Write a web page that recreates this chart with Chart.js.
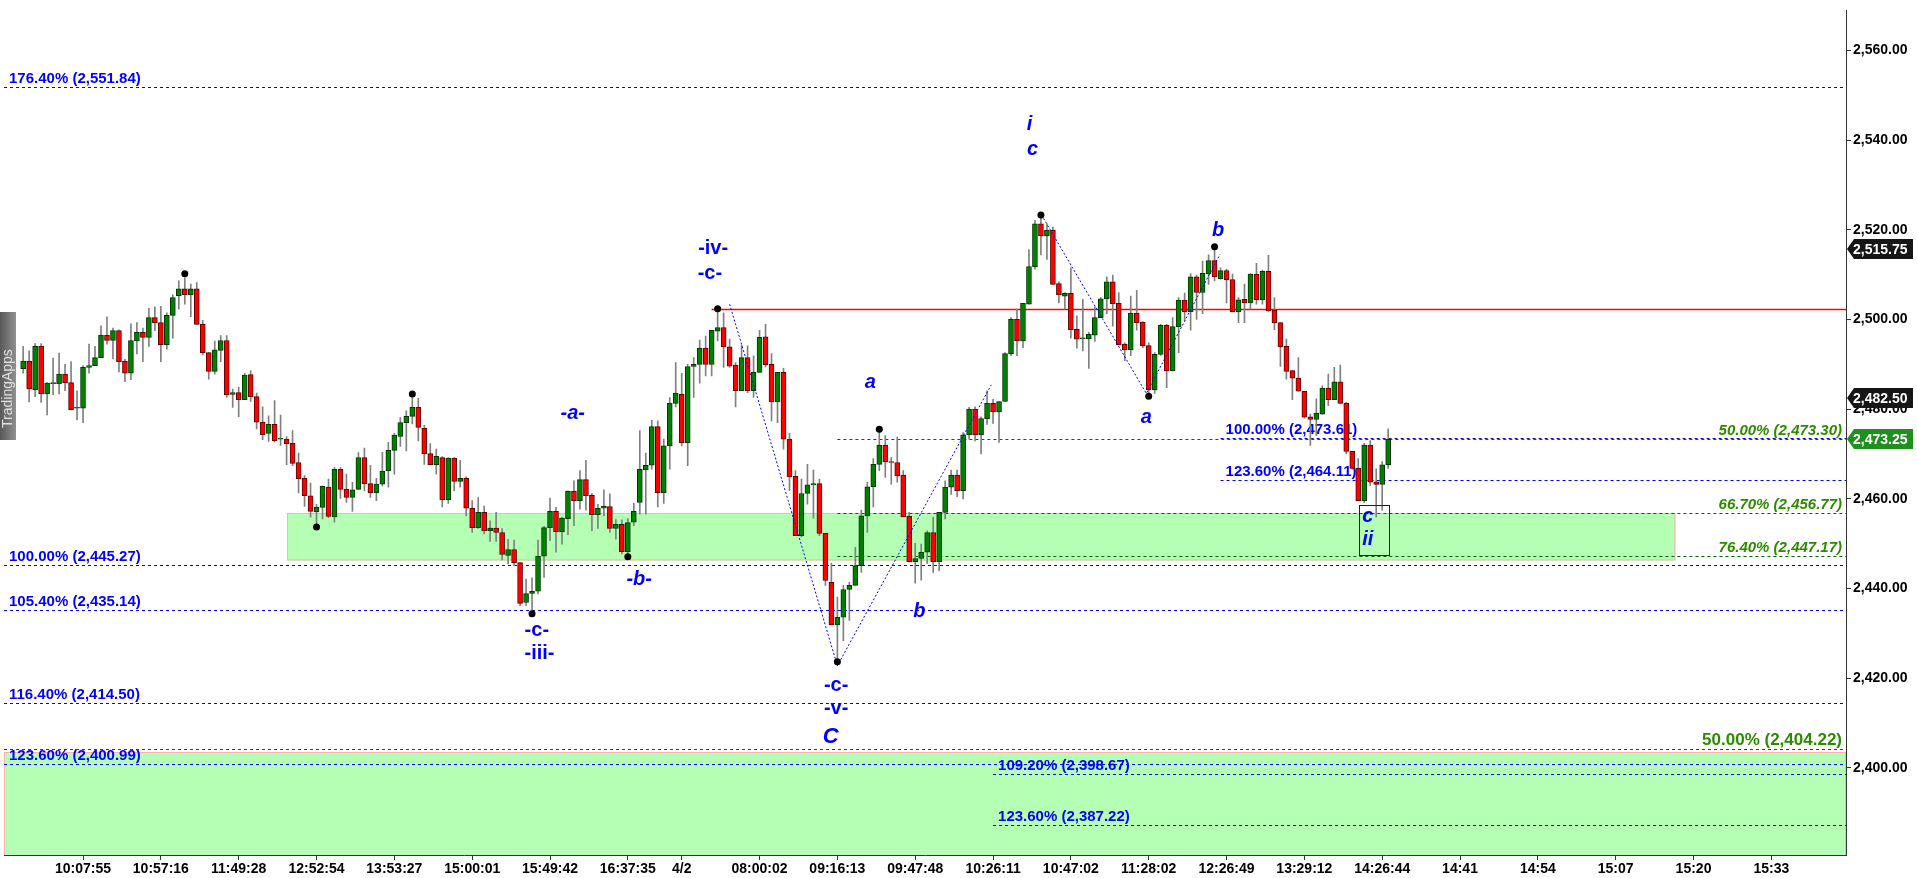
<!DOCTYPE html>
<html>
<head>
<meta charset="utf-8">
<script src="https://cdn.jsdelivr.net/npm/chart.js@4.4.1/dist/chart.umd.min.js"></script>
<style>
  html, body { margin: 0; padding: 0; background: #fff; }
  #wrap { width: 1917px; height: 878px; }
</style>
</head>
<body>
<div id="wrap"><canvas id="chart" width="1917" height="878"></canvas></div>
<script>
// bougies (index de barre 0..228)
const opens = [
  2489.0, 2490.7, 2484.3, 2494.0, 2483.4, 2485.7, 2485.7, 2487.8, 2485.9, 2480.2,
  2480.2, 2489.3, 2489.7, 2491.5, 2496.5, 2495.3, 2497.5, 2490.7, 2488.0, 2495.2,
  2497.1, 2496.0, 2500.4, 2499.3, 2494.4, 2500.9, 2505.3, 2506.8, 2505.5, 2506.8,
  2498.9, 2492.6, 2488.4, 2493.1, 2495.3, 2483.3, 2483.7, 2482.1, 2487.7, 2482.8,
  2477.1, 2474.6, 2476.6, 2473.3, 2473.3, 2472.4, 2468.1, 2464.6, 2460.7, 2457.1,
  2458.1, 2462.6, 2456.0, 2466.6, 2462.2, 2460.3, 2462.1, 2469.2, 2463.4, 2461.4,
  2463.3, 2466.3, 2470.8, 2473.9, 2477.0, 2478.4, 2480.4, 2475.7, 2470.1, 2467.6,
  2469.2, 2459.8, 2469.1, 2463.9, 2464.6, 2457.9, 2453.6, 2457.0, 2452.9, 2453.5,
  2452.5, 2447.4, 2448.7, 2445.8, 2436.9, 2438.9, 2439.4, 2447.2, 2453.6, 2457.2,
  2452.7, 2455.6, 2461.7, 2459.6, 2464.3, 2460.8, 2456.5, 2457.9, 2458.3, 2453.4,
  2454.3, 2448.2, 2454.8, 2459.2, 2466.5, 2467.5, 2476.1, 2461.4, 2471.8, 2481.3,
  2483.3, 2472.5, 2489.5, 2490.0, 2493.6, 2490.0, 2497.4, 2498.2, 2493.9, 2489.8,
  2484.1, 2491.5, 2484.1, 2488.2, 2496.1, 2490.0, 2481.6, 2488.2, 2473.3, 2465.0,
  2451.8, 2461.2, 2463.1, 2463.4, 2452.3, 2441.4, 2431.9, 2433.6, 2439.8, 2440.7,
  2445.1, 2456.2, 2462.7, 2467.7, 2472.0, 2468.3, 2468.1, 2465.3, 2456.1, 2446.0,
  2446.7, 2448.1, 2452.5, 2446.0, 2457.0, 2462.6, 2465.3, 2461.8, 2474.3, 2480.0,
  2474.3, 2477.9, 2481.3, 2479.4, 2481.7, 2492.3, 2500.0, 2495.2, 2503.4, 2511.7,
  2521.3, 2518.6, 2519.9, 2508.0, 2505.2, 2505.8, 2497.8, 2495.7, 2495.7, 2496.5,
  2500.4, 2504.6, 2508.4, 2503.6, 2494.5, 2493.2, 2501.4, 2499.4, 2494.2, 2484.3,
  2492.2, 2498.7, 2488.5, 2498.4, 2504.3, 2501.7, 2509.5, 2506.0, 2510.2, 2513.1,
  2509.1, 2510.9, 2508.9, 2501.7, 2504.5, 2503.7, 2510.1, 2504.4, 2510.7, 2502.1,
  2499.3, 2494.0, 2488.6, 2486.9, 2484.0, 2478.3, 2477.7, 2478.9, 2484.7, 2482.1,
  2486.1, 2481.3, 2470.6, 2466.8, 2459.6, 2472.0, 2463.8, 2463.2, 2467.6
];
const highs = [
  2494.0, 2493.0, 2494.6, 2494.6, 2485.9, 2491.4, 2492.5, 2490.0, 2490.6, 2484.1,
  2489.7, 2494.5, 2494.0, 2498.6, 2500.6, 2498.1, 2497.7, 2491.1, 2499.0, 2499.3,
  2498.1, 2502.5, 2502.8, 2502.9, 2501.5, 2505.5, 2508.6, 2509.3, 2507.9, 2508.2,
  2499.8, 2492.6, 2495.2, 2496.4, 2496.4, 2484.5, 2484.9, 2488.0, 2488.6, 2483.6,
  2480.5, 2478.5, 2481.9, 2478.7, 2473.9, 2475.2, 2470.2, 2465.2, 2463.5, 2458.8,
  2462.9, 2464.4, 2467.0, 2467.0, 2465.5, 2463.7, 2470.3, 2471.3, 2467.5, 2464.6,
  2470.4, 2472.6, 2474.6, 2478.1, 2479.6, 2482.6, 2482.4, 2476.4, 2472.3, 2471.1,
  2469.4, 2469.2, 2469.2, 2468.6, 2464.9, 2459.6, 2460.3, 2458.4, 2455.1, 2457.0,
  2453.4, 2451.0, 2450.8, 2445.8, 2442.1, 2442.4, 2450.8, 2453.9, 2460.2, 2458.1,
  2455.9, 2461.8, 2464.0, 2466.3, 2468.6, 2461.2, 2458.8, 2462.0, 2461.1, 2455.4,
  2455.3, 2455.6, 2459.0, 2475.2, 2470.2, 2477.5, 2477.4, 2473.3, 2482.6, 2490.4,
  2488.0, 2490.0, 2491.5, 2495.4, 2496.3, 2497.6, 2501.9, 2501.5, 2495.6, 2490.4,
  2494.3, 2494.1, 2491.9, 2497.6, 2498.9, 2492.4, 2488.2, 2489.1, 2474.6, 2466.3,
  2464.4, 2467.7, 2466.4, 2464.4, 2452.3, 2445.6, 2438.1, 2440.7, 2441.4, 2449.2,
  2457.5, 2463.7, 2469.0, 2474.9, 2474.1, 2469.2, 2473.8, 2466.3, 2457.0, 2450.1,
  2449.9, 2452.9, 2455.9, 2457.0, 2464.0, 2466.4, 2466.4, 2474.8, 2480.4, 2480.5,
  2478.3, 2484.1, 2482.2, 2481.7, 2492.6, 2500.4, 2502.3, 2503.6, 2515.6, 2522.1,
  2522.8, 2521.3, 2520.6, 2508.4, 2506.0, 2511.5, 2500.8, 2504.5, 2497.1, 2502.8,
  2504.9, 2509.5, 2509.9, 2506.0, 2494.8, 2505.2, 2506.5, 2499.5, 2494.8, 2492.6,
  2498.9, 2498.9, 2500.4, 2504.9, 2505.9, 2510.2, 2509.9, 2513.0, 2514.4, 2515.6,
  2511.5, 2511.2, 2510.1, 2504.9, 2507.9, 2510.2, 2512.5, 2511.0, 2514.3, 2504.9,
  2499.3, 2495.6, 2488.6, 2491.5, 2484.0, 2478.9, 2482.3, 2485.2, 2487.8, 2489.3,
  2489.8, 2481.5, 2470.6, 2469.0, 2472.4, 2473.0, 2466.7, 2468.3, 2475.6
];
const lows = [
  2488.0, 2481.6, 2482.8, 2481.5, 2478.7, 2483.2, 2483.4, 2484.1, 2479.9, 2477.6,
  2477.0, 2488.0, 2489.7, 2491.5, 2494.5, 2491.2, 2488.3, 2486.1, 2486.6, 2492.3,
  2490.6, 2494.0, 2497.5, 2490.6, 2493.4, 2495.8, 2502.3, 2503.4, 2500.6, 2498.9,
  2492.1, 2486.7, 2487.8, 2490.6, 2482.6, 2480.4, 2478.3, 2482.1, 2481.7, 2475.6,
  2473.2, 2472.8, 2472.7, 2471.9, 2467.6, 2467.4, 2461.3, 2458.3, 2455.9, 2454.0,
  2455.5, 2455.8, 2454.8, 2460.1, 2459.2, 2457.2, 2462.1, 2461.8, 2460.3, 2459.6,
  2462.9, 2462.6, 2465.5, 2471.7, 2470.7, 2476.7, 2472.9, 2467.7, 2467.6, 2465.5,
  2458.2, 2459.0, 2461.8, 2462.6, 2456.2, 2452.5, 2453.4, 2452.2, 2450.5, 2450.5,
  2446.4, 2445.5, 2445.1, 2436.2, 2436.2, 2434.6, 2438.8, 2442.5, 2450.7, 2448.1,
  2449.9, 2452.0, 2454.0, 2457.7, 2457.5, 2452.9, 2453.4, 2456.2, 2452.5, 2451.0,
  2447.7, 2447.4, 2454.0, 2456.6, 2456.6, 2466.6, 2458.2, 2459.0, 2466.6, 2480.5,
  2471.8, 2467.4, 2482.6, 2485.8, 2487.4, 2487.4, 2495.2, 2489.3, 2489.3, 2480.5,
  2484.1, 2483.7, 2482.6, 2488.2, 2489.4, 2477.4, 2477.0, 2471.1, 2461.8, 2451.8,
  2451.5, 2458.8, 2455.7, 2451.8, 2440.7, 2431.9, 2424.4, 2428.4, 2432.9, 2440.7,
  2443.6, 2452.5, 2458.2, 2466.3, 2464.8, 2463.3, 2463.7, 2456.0, 2445.9, 2441.2,
  2441.9, 2445.6, 2443.6, 2444.0, 2455.5, 2461.0, 2460.5, 2460.0, 2473.3, 2472.9,
  2470.0, 2476.6, 2476.8, 2472.6, 2481.7, 2491.9, 2491.9, 2493.7, 2503.4, 2511.2,
  2514.4, 2513.4, 2507.8, 2503.7, 2502.3, 2495.8, 2493.6, 2493.0, 2489.1, 2495.1,
  2500.4, 2501.3, 2498.5, 2494.3, 2490.8, 2491.9, 2497.6, 2493.7, 2483.3, 2483.5,
  2492.0, 2484.8, 2488.5, 2492.6, 2499.8, 2497.6, 2500.0, 2501.3, 2507.8, 2508.6,
  2509.0, 2503.7, 2501.7, 2499.3, 2499.3, 2502.3, 2503.4, 2503.4, 2501.8, 2497.7,
  2489.5, 2486.7, 2482.1, 2484.0, 2478.0, 2471.9, 2474.1, 2478.9, 2480.8, 2482.1,
  2481.3, 2470.0, 2466.6, 2459.6, 2459.2, 2463.0, 2456.0, 2457.5, 2466.8
];
const closes = [
  2490.7, 2484.5, 2494.0, 2483.4, 2485.8, 2485.7, 2487.8, 2485.9, 2479.9, 2480.2,
  2489.3, 2489.7, 2491.5, 2496.5, 2495.3, 2497.5, 2490.6, 2488.0, 2495.3, 2497.1,
  2496.0, 2500.4, 2499.3, 2494.4, 2500.9, 2504.9, 2506.8, 2505.5, 2506.8, 2498.9,
  2492.6, 2488.4, 2493.2, 2495.3, 2483.2, 2483.7, 2482.1, 2487.6, 2482.8, 2477.1,
  2474.3, 2476.6, 2473.0, 2473.3, 2472.3, 2467.9, 2464.5, 2460.7, 2457.2, 2458.1,
  2462.8, 2456.1, 2466.6, 2462.1, 2460.3, 2462.0, 2469.2, 2463.4, 2461.4, 2463.3,
  2466.2, 2470.8, 2474.2, 2477.0, 2478.4, 2480.4, 2475.9, 2470.1, 2467.6, 2469.5,
  2459.8, 2469.1, 2463.9, 2464.6, 2457.9, 2453.6, 2457.0, 2452.9, 2453.5, 2452.5,
  2447.6, 2448.7, 2445.8, 2436.7, 2438.9, 2439.4, 2447.2, 2453.6, 2457.2, 2452.7,
  2455.7, 2461.7, 2459.6, 2464.3, 2460.7, 2456.5, 2457.9, 2458.4, 2453.4, 2454.3,
  2448.2, 2454.7, 2457.2, 2466.6, 2467.5, 2476.1, 2461.4, 2471.8, 2481.3, 2483.5,
  2472.5, 2489.5, 2490.0, 2493.6, 2490.0, 2497.6, 2498.2, 2493.9, 2489.6, 2484.1,
  2491.5, 2484.1, 2488.2, 2496.0, 2489.9, 2481.6, 2488.2, 2473.3, 2464.9, 2451.8,
  2461.2, 2463.1, 2463.4, 2452.3, 2441.8, 2431.9, 2433.6, 2439.8, 2440.7, 2445.1,
  2456.2, 2462.7, 2467.7, 2472.0, 2468.3, 2468.1, 2465.1, 2456.0, 2446.0, 2446.7,
  2448.1, 2452.5, 2446.0, 2457.0, 2462.6, 2465.3, 2461.8, 2474.3, 2480.0, 2474.3,
  2477.9, 2481.3, 2479.4, 2481.7, 2492.4, 2500.0, 2495.2, 2503.6, 2511.8, 2521.3,
  2518.6, 2519.9, 2507.8, 2505.5, 2505.8, 2497.7, 2495.6, 2495.7, 2496.7, 2500.4,
  2504.6, 2508.4, 2503.5, 2494.3, 2493.2, 2501.4, 2499.3, 2494.1, 2484.3, 2492.2,
  2498.7, 2488.5, 2498.4, 2504.3, 2501.7, 2509.5, 2506.0, 2510.3, 2513.1, 2509.5,
  2510.9, 2508.8, 2501.7, 2504.4, 2503.7, 2510.1, 2504.4, 2510.7, 2501.9, 2499.3,
  2493.9, 2488.4, 2486.9, 2484.0, 2478.2, 2477.7, 2479.1, 2484.7, 2482.1, 2486.1,
  2481.3, 2470.6, 2466.8, 2459.6, 2472.0, 2463.7, 2463.2, 2467.6, 2473.25
];

// axe du temps : index de barre -> libelle
const xTickIdx = [10, 23, 36, 49, 62, 75, 88, 101, 110, 123, 136, 149, 162, 175, 188, 201, 214, 227, 240, 253, 266, 279, 292];
const xTickLabels = ['10:07:55', '10:57:16', '11:49:28', '12:52:54', '13:53:27', '15:00:01', '15:49:42', '16:37:35', '4/2',
  '08:00:02', '09:16:13', '09:47:48', '10:26:11', '10:47:02', '11:28:02', '12:26:49', '13:29:12', '14:26:44',
  '14:41', '14:54', '15:07', '15:20', '15:33'];
const yTicks = [2400, 2420, 2440, 2460, 2480, 2500, 2520, 2540, 2560];

// niveaux fibo bleus
const blueFibPct = ['176.40%', '100.00%', '105.40%', '116.40%', '123.60%', '100.00%', '123.60%', '109.20%', '123.60%'];
const blueFibVal = [2551.84, 2445.27, 2435.14, 2414.50, 2400.99, 2473.61, 2464.11, 2398.67, 2387.22];
const blueFibFrom = [-3.2, -3.2, -3.2, -3.2, -3.2, 200, 200, 162, 162];
// niveaux fibo verts
const greenFibPct = ['50.00%', '66.70%', '76.40%', '50.00%'];
const greenFibVal = [2473.30, 2456.77, 2447.17, 2404.22];
const greenFibFrom = [136, 136, 136, -3.2];
// ligne rouge
const redLevel = 2502.4, redFrom = 115;

// zones vertes [debut, fin, haut, bas]
const zones = [
  [44.1, 276.0, 2456.77, 2446.2],
  [-3.2, 304.47, 2403.5, 2370]
];

// points extremes
const dotIdx = [27, 49, 65, 85, 101, 116, 136, 143, 170, 188, 199];
const dotVal = [2510.2, 2453.7, 2483.4, 2434.4, 2447.1, 2502.4, 2423.7, 2475.5, 2523.3, 2482.9, 2516.2];

// lignes de vagues pointillees
const zigA = [{x: 118, y: 2503.4}, {x: 136, y: 2422.8}, {x: 161.7, y: 2485.4}];
const zigB = [{x: 170.1, y: 2523.3}, {x: 187.6, y: 2483.5}, {x: 199.9, y: 2514.5}];

// etiquettes d'Elliott
const waveText = ['-iv-', '-c-', 'a', 'b', '-b-', '-a-', '-c-', '-iii-', '-c-', '-v-', 'C', 'i', 'c', 'a', 'b', 'c', 'ii'];
const waveX = [115.25, 114.7, 141.5, 149.7, 102.9, 91.8, 85.8, 86.25, 135.8, 135.8, 134.9, 168.1, 168.6, 187.6, 199.6, 224.6, 224.6];
const waveY = [2515.3, 2509.9, 2485.4, 2434.4, 2441.6, 2478.5, 2430.3, 2425.0, 2418.0, 2412.8, 2406.4, 2543.1, 2537.5, 2477.8, 2519.4, 2455.7, 2450.5];
const waveItalic = [false, false, true, true, true, true, false, false, false, false, true, true, true, true, true, true, true];
const waveBox = [223.05, 228.2, 2458.7, 2447.4];

// etiquettes de prix a droite
const tagVals = [2515.75, 2482.50, 2473.25];
const tagColors = ['#161616', '#161616', '#1f8f1f'];

const FONT = 'Liberation Sans';
const fmt = v => v.toLocaleString('en-US', {minimumFractionDigits: 2, maximumFractionDigits: 2});

const bodies = opens.map((o, i) => {
  const c = closes[i];
  return {x: i, y: Math.abs(o - c) < 0.2 ? [o, o + 0.22] : [o, c]};
});
const wicks = lows.map((l, i) => ({x: i, y: [l, highs[i]]}));
const isUp = opens.map((o, i) => closes[i] >= o);
const dots = dotIdx.map((k, i) => ({x: k, y: dotVal[i]}));

const overlay = {
  id: 'overlay',
  beforeDatasetsDraw(chart) {
    const {ctx, chartArea: a, scales: {x, y}} = chart;
    ctx.save();
    ctx.beginPath();
    ctx.rect(a.left, a.top, a.right - a.left, a.bottom - a.top);
    ctx.clip();
    zones.forEach(z => {
      const x1 = x.getPixelForValue(z[0]), x2 = x.getPixelForValue(z[1]);
      const y1 = y.getPixelForValue(z[2]), y2 = y.getPixelForValue(z[3]);
      ctx.fillStyle = '#b4ffb4';
      ctx.fillRect(x1, y1, x2 - x1, y2 - y1);
      ctx.strokeStyle = '#ffb0b0';
      ctx.lineWidth = 1;
      ctx.strokeRect(Math.round(x1) + 0.5, Math.round(y1) + 0.5, x2 - x1 - 1, y2 - y1 - 1);
    });

    const hline = (v, from, color, dash, w) => {
      const yy = Math.round(y.getPixelForValue(v)) + 0.5;
      ctx.strokeStyle = color;
      ctx.lineWidth = w;
      ctx.setLineDash(dash);
      ctx.beginPath();
      ctx.moveTo(x.getPixelForValue(from), yy);
      ctx.lineTo(a.right, yy);
      ctx.stroke();
      ctx.setLineDash([]);
      return yy;
    };

    ctx.textBaseline = 'alphabetic';
    blueFibVal.forEach((v, i) => {
      const yy = hline(v, blueFibFrom[i], '#0000ff', [3, 3], 1);
      ctx.fillStyle = '#0000ff';
      ctx.font = 'bold 15px "' + FONT + '"';
      ctx.textAlign = 'left';
      ctx.fillText(blueFibPct[i] + ' (' + fmt(v) + ')', x.getPixelForValue(blueFibFrom[i]) + 5, yy - 5);
    });
    greenFibVal.forEach((v, i) => {
      const yy = hline(v, greenFibFrom[i], '#006400', [3, 3], 1);
      ctx.fillStyle = '#2e8b00';
      ctx.font = (i < 3 ? 'italic bold 15px "' : 'bold 17px "') + FONT + '"';
      ctx.textAlign = 'right';
      ctx.fillText(greenFibPct[i] + ' (' + fmt(v) + ')', a.right - 4, yy - 5);
    });
    hline(redLevel, redFrom, '#ff0000', [], 1.5);
    ctx.restore();
  },
  afterDatasetsDraw(chart) {
    const {ctx, scales: {x, y}} = chart;
    ctx.save();
    ctx.fillStyle = '#0000ff';
    ctx.textAlign = 'center';
    ctx.textBaseline = 'middle';
    waveText.forEach((t, i) => {
      ctx.font = (waveItalic[i] ? 'italic bold ' : 'bold ') + (t === 'C' ? 22 : 20) + 'px "' + FONT + '"';
      ctx.fillText(t, x.getPixelForValue(waveX[i]), y.getPixelForValue(waveY[i]) - 2);
    });
    const bx1 = Math.round(x.getPixelForValue(waveBox[0])) + 0.5, bx2 = Math.round(x.getPixelForValue(waveBox[1])) + 0.5;
    const by1 = Math.round(y.getPixelForValue(waveBox[2])) + 0.5, by2 = Math.round(y.getPixelForValue(waveBox[3])) + 0.5;
    ctx.strokeStyle = '#0000ff';
    ctx.lineWidth = 1;
    ctx.strokeRect(bx1, by1, bx2 - bx1, by2 - by1);
    ctx.restore();
  },
  afterDraw(chart) {
    const {ctx, chartArea: a, scales: {y}} = chart;
    ctx.save();
    // etiquettes de prix
    tagVals.forEach((v, i) => {
      const yy = Math.round(y.getPixelForValue(v));
      ctx.fillStyle = tagColors[i];
      ctx.beginPath();
      ctx.moveTo(a.right + 1, yy);
      ctx.lineTo(a.right + 8, yy - 10);
      ctx.lineTo(a.right + 67, yy - 10);
      ctx.lineTo(a.right + 67, yy + 10);
      ctx.lineTo(a.right + 8, yy + 10);
      ctx.closePath();
      ctx.fill();
      ctx.fillStyle = '#fff';
      ctx.font = 'bold 14px "' + FONT + '"';
      ctx.textAlign = 'left';
      ctx.textBaseline = 'middle';
      ctx.fillText(fmt(v), a.right + 7, yy + 1);
    });
    // filigrane
    const g = ctx.createLinearGradient(0, 0, 16, 0);
    g.addColorStop(0, 'rgba(60,60,60,0.85)');
    g.addColorStop(1, 'rgba(125,125,125,0.85)');
    ctx.fillStyle = g;
    ctx.fillRect(0, 312, 16, 128);
    ctx.translate(12, 428);
    ctx.rotate(-Math.PI / 2);
    ctx.fillStyle = '#e0e0e0';
    ctx.font = '14px "' + FONT + '"';
    ctx.textAlign = 'left';
    ctx.textBaseline = 'alphabetic';
    ctx.fillText('TradingApps', 0, 0);
    ctx.restore();
  }
};

new Chart(document.getElementById('chart'), {
  type: 'bar',
  data: {
    datasets: [
      {type: 'scatter', data: dots, pointRadius: 3.5, pointBackgroundColor: '#000', pointBorderWidth: 0, order: 0},
      {type: 'line', data: zigA, borderColor: '#0000ff', borderWidth: 1, borderDash: [2, 2], pointRadius: 0, fill: false, order: 0},
      {type: 'line', data: zigB, borderColor: '#0000ff', borderWidth: 1, borderDash: [2, 2], pointRadius: 0, fill: false, order: 0},
      {
        type: 'bar', data: bodies, order: 1, grouped: false, barThickness: 5, borderWidth: 1, borderSkipped: false,
        backgroundColor: isUp.map(u => u ? '#008000' : '#ff0000'),
        borderColor: isUp.map(u => u ? '#003800' : '#600000')
      },
      {type: 'bar', data: wicks, order: 2, grouped: false, barThickness: 1, backgroundColor: '#808080', borderWidth: 0}
    ]
  },
  options: {
    responsive: false,
    devicePixelRatio: 1,
    animation: false,
    layout: {padding: 0},
    plugins: {legend: {display: false}, tooltip: {enabled: false}},
    scales: {
      x: {
        type: 'linear', min: -3.2, max: 304.47, offset: false,
        afterBuildTicks: s => { s.ticks = xTickIdx.map(v => ({value: v})); },
        afterFit: s => { s.height = 23; },
        ticks: {
          autoSkip: false, maxRotation: 0, padding: 1, color: '#000',
          font: {family: FONT, weight: 'bold', size: 14},
          callback: (v, i) => xTickLabels[i]
        },
        grid: {drawOnChartArea: false, tickLength: 5, color: '#333', offset: false},
        border: {display: true, color: '#333'}
      },
      y: {
        position: 'right', min: 2380.6, max: 2568.9,
        afterBuildTicks: s => { s.ticks = yTicks.map(v => ({value: v})); },
        afterFit: s => { s.width = 71; },
        ticks: {
          padding: 2, color: '#000',
          font: {family: FONT, weight: 'bold', size: 14},
          callback: v => fmt(v)
        },
        grid: {drawOnChartArea: false, tickLength: 5, color: '#333'},
        border: {display: true, color: '#333'}
      }
    }
  },
  plugins: [overlay]
});
</script>
</body>
</html>
